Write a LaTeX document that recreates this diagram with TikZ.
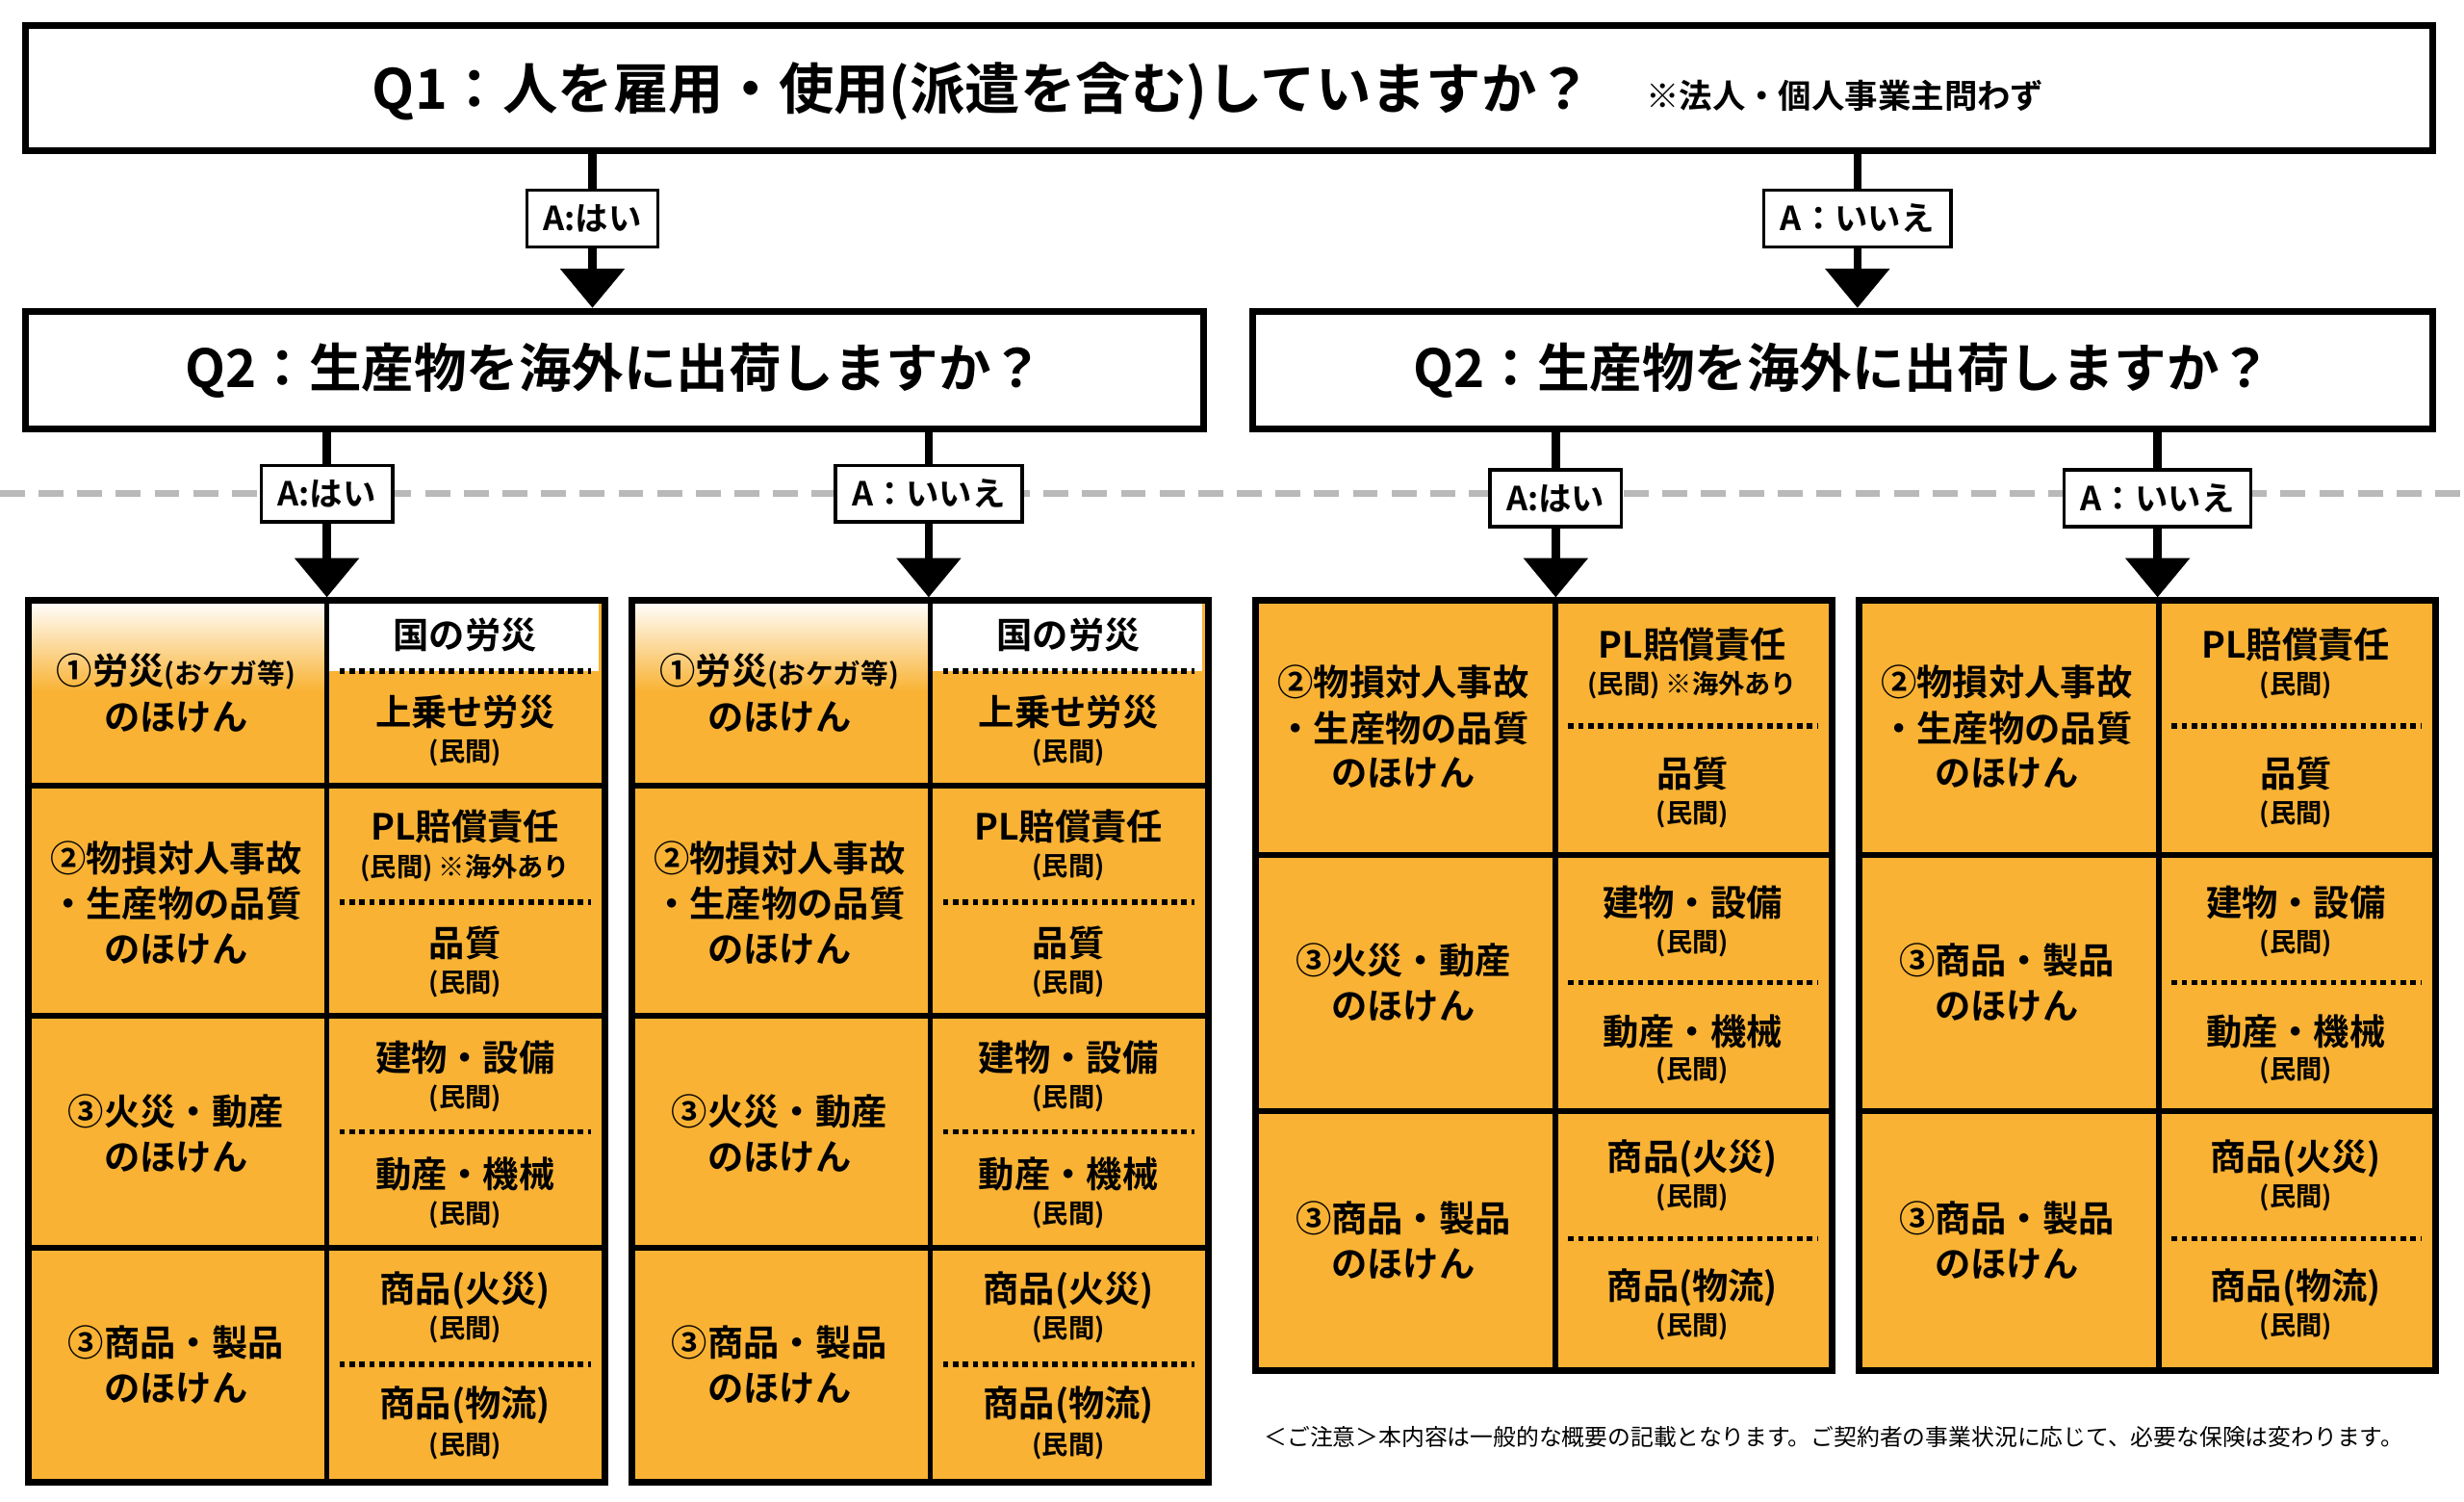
\documentclass[tikz,border=0pt]{standalone}
\usepackage{fontspec}
\setmainfont{Noto Sans CJK JP Bold}
\newfontfamily\jpr{Noto Sans CJK JP}
\usetikzlibrary{positioning}
\usetikzlibrary{arrows.meta}
\definecolor{orange1}{HTML}{F9B233}
\tikzset{
  qbox/.style={draw, line width=2.4pt, fill=white, inner sep=0pt},
  ans/.style={draw, line width=1.2pt, fill=white, font=\fontsize{12}{12}\selectfont, inner xsep=6pt, minimum height=0.72cm},
  tab/.style={draw, line width=2.4pt, inner sep=0pt},
  cline/.style={line width=2pt},
  dline/.style={line width=2pt, dash pattern=on 2pt off 1.6pt},
  link/.style={line width=3pt},
  arr/.style={line width=3pt, -{Triangle[width=0.8cm,length=0.5cm]}},
  big/.style={font=\fontsize{13}{13}\selectfont},
  small/.style={font=\fontsize{9.5}{10}\selectfont},
}
% left table: #1 left x, #2 name, #3 PL note
\newcommand{\lefttab}[3]{%
  \fill[orange1] (#1,380) rectangle ({#1+367},941);
  \shade[top color=white,bottom color=orange1] (#1,382) rectangle ({#1+192},440);
  \fill[white] ({#1+192},382) rectangle ({#1+365},427);
  \draw[cline] ({#1+192},380) -- ({#1+192},941);
  \foreach \y in {500,646,794} \draw[cline] (#1,\y) -- ({#1+367},\y);
  \foreach \y in {427,574,720,868} \draw[dline] ({#1+200},\y) -- ({#1+360},\y);
  \node[tab, minimum width=7.34cm, minimum height=11.22cm, anchor=north west] (#2) at (#1,380) {};
  \node[big] (#2-a1) at ({#1+96},427) {①労災{\fontsize{10}{10}\selectfont(おケガ等)}};
  \node[big] (#2-a2) at ({#1+96},456) {のほけん};
  \node[big] (#2-b1) at ({#1+280},404) {国の労災};
  \node[big] (#2-b2) at ({#1+280},453) {上乗せ労災};
  \node[small] (#2-b3) at ({#1+280},479) {(民間)};
  \node[big] (#2-c1) at ({#1+96},546) {②物損対人事故};
  \node[big] (#2-c2) at ({#1+96},575) {・生産物の品質};
  \node[big] (#2-c3) at ({#1+96},604) {のほけん};
  \node[big] (#2-d1) at ({#1+280},526) {PL賠償責任};
  \node[small] (#2-d2) at ({#1+280},552) {#3};
  \node[big] (#2-d3) at ({#1+280},600) {品質};
  \node[small] (#2-d4) at ({#1+280},626) {(民間)};
  \node[big] (#2-e1) at ({#1+96},707) {③火災・動産};
  \node[big] (#2-e2) at ({#1+96},736) {のほけん};
  \node[big] (#2-f1) at ({#1+280},673) {建物・設備};
  \node[small] (#2-f2) at ({#1+280},699) {(民間)};
  \node[big] (#2-f3) at ({#1+280},747) {動産・機械};
  \node[small] (#2-f4) at ({#1+280},773) {(民間)};
  \node[big] (#2-g1) at ({#1+96},854) {③商品・製品};
  \node[big] (#2-g2) at ({#1+96},883) {のほけん};
  \node[big] (#2-h1) at ({#1+280},821) {商品(火災)};
  \node[small] (#2-h2) at ({#1+280},846) {(民間)};
  \node[big] (#2-h3) at ({#1+280},894) {商品(物流)};
  \node[small] (#2-h4) at ({#1+280},920) {(民間)};
}
% right table: #1 left x, #2 name, #3 PL note, #4 middle row title
\newcommand{\righttab}[4]{%
  \fill[orange1] (#1,380) rectangle ({#1+367},870);
  \draw[cline] ({#1+193},380) -- ({#1+193},870);
  \foreach \y in {544,707} \draw[cline] (#1,\y) -- ({#1+367},\y);
  \foreach \y in {462,625,788} \draw[dline] ({#1+201},\y) -- ({#1+360},\y);
  \node[tab, minimum width=7.34cm, minimum height=9.8cm, anchor=north west] (#2) at (#1,380) {};
  \node[big] (#2-a1) at ({#1+96},434) {②物損対人事故};
  \node[big] (#2-a2) at ({#1+96},463) {・生産物の品質};
  \node[big] (#2-a3) at ({#1+96},492) {のほけん};
  \node[big] (#2-b1) at ({#1+280},410) {PL賠償責任};
  \node[small] (#2-b2) at ({#1+280},436) {#3};
  \node[big] (#2-b3) at ({#1+280},492) {品質};
  \node[small] (#2-b4) at ({#1+280},518) {(民間)};
  \node[big] (#2-c1) at ({#1+96},611) {#4};
  \node[big] (#2-c2) at ({#1+96},640) {のほけん};
  \node[big] (#2-d1) at ({#1+280},574) {建物・設備};
  \node[small] (#2-d2) at ({#1+280},600) {(民間)};
  \node[big] (#2-d3) at ({#1+280},656) {動産・機械};
  \node[small] (#2-d4) at ({#1+280},681) {(民間)};
  \node[big] (#2-e1) at ({#1+96},775) {③商品・製品};
  \node[big] (#2-e2) at ({#1+96},804) {のほけん};
  \node[big] (#2-f1) at ({#1+280},737) {商品(火災)};
  \node[small] (#2-f2) at ({#1+280},762) {(民間)};
  \node[big] (#2-f3) at ({#1+280},819) {商品(物流)};
  \node[small] (#2-f4) at ({#1+280},844) {(民間)};
}
\begin{document}
\begin{tikzpicture}[x=0.02cm, y=-0.02cm]
\useasboundingbox (0,0) rectangle (1568,955);
% dashed divider
\draw[gray!55, line width=2.2pt, dash pattern=on 9pt off 5pt] (0,314) -- (1568,314);
% question boxes
\node[qbox, minimum width=30.64cm, minimum height=1.6cm] (q1) at (782,56) {};
\node[font=\fontsize{20}{20}\selectfont] (q1t) at (625,58) {Q1：人を雇用・使用(派遣を含む)していますか？};
\node[font=\fontsize{12}{12}\selectfont] (q1n) at (1174,61) {※法人・個人事業主問わず};
\node[qbox, minimum width=15cm, minimum height=1.5cm, font=\fontsize{19}{19}\selectfont] (q2l) at (391,235.5) {Q2：生産物を海外に出荷しますか？};
\node[qbox, minimum width=15.02cm, minimum height=1.5cm, font=\fontsize{19}{19}\selectfont] (q2r) at (1172.5,235.5) {Q2：生産物を海外に出荷しますか？};
% tables
\lefttab{16}{t1}{(民間) ※海外あり}
\lefttab{400}{t2}{(民間)}
\righttab{797}{t3}{(民間) ※海外あり}{③火災・動産}
\righttab{1181}{t4}{(民間)}{③商品・製品}
% answers and arrows
\node[ans] (a1) at (377,139) {A:はい};
\node[ans] (a2) at (1182,139) {A：いいえ};
\node[ans] (a3) at (208,314) {A:はい};
\node[ans] (a4) at (591,314) {A：いいえ};
\node[ans] (a5) at (990,317) {A:はい};
\node[ans] (a6) at (1373,317) {A：いいえ};
\draw[link] (q1.south -| a1) -- (a1);
\draw[arr] (a1) -- (q2l.north -| a1);
\draw[link] (q1.south -| a2) -- (a2);
\draw[arr] (a2) -- (q2r.north -| a2);
\draw[link] (q2l.south -| a3) -- (a3);
\draw[arr] (a3) -- (t1.north -| a3);
\draw[link] (q2l.south -| a4) -- (a4);
\draw[arr] (a4) -- (t2.north -| a4);
\draw[link] (q2r.south -| a5) -- (a5);
\draw[arr] (a5) -- (t3.north -| a5);
\draw[link] (q2r.south -| a6) -- (a6);
\draw[arr] (a6) -- (t4.north -| a6);
% note
\node[font=\jpr\fontsize{8.3}{9}\selectfont] (note) at (1167,914) {＜ご注意＞本内容は一般的な概要の記載となります。ご契約者の事業状況に応じて、必要な保険は変わります。};
\end{tikzpicture}
\end{document}
